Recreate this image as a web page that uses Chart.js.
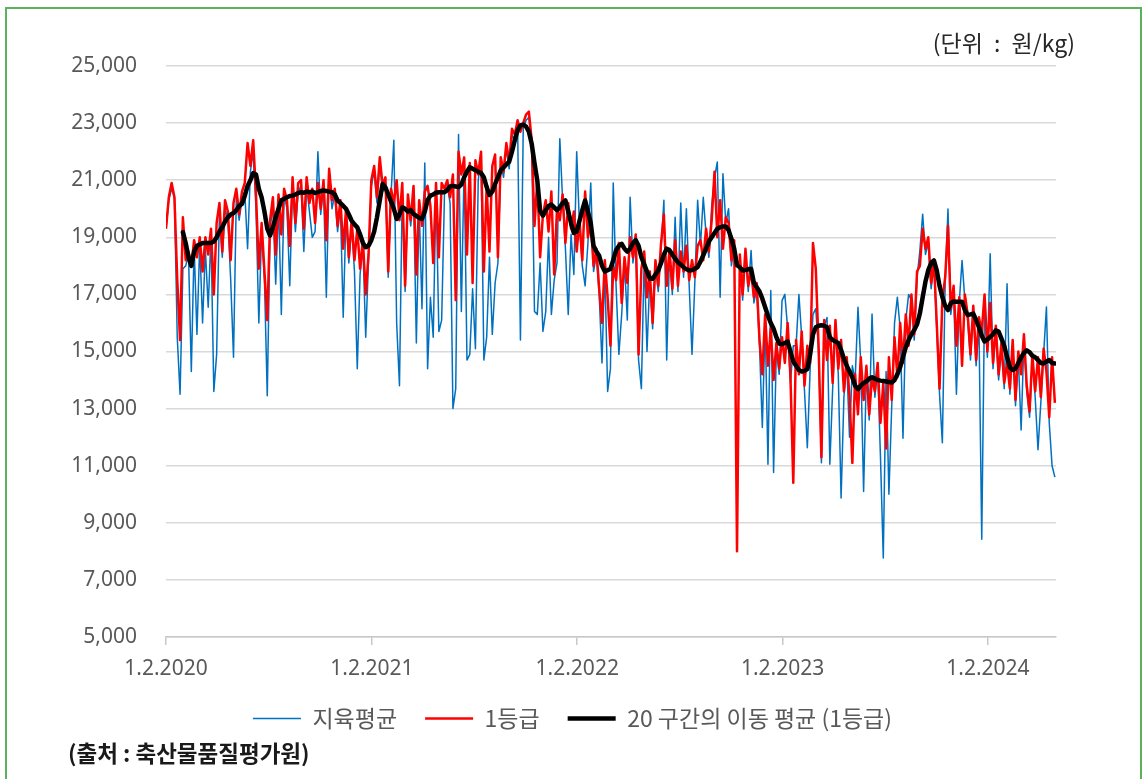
<!DOCTYPE html>
<html>
<head>
<meta charset="utf-8">
<script src="https://cdn.jsdelivr.net/npm/chart.js@4.4.1/dist/chart.umd.min.js"></script>
<style>
  body { margin: 0; background: #fff; }
  #frame { position: absolute; left: 5px; top: 7px; width: 1133px; height: 800px; border: 2px solid #5cb25c; }
  #c { position: absolute; left: 0; top: 0; }
  #unit { position: absolute; right: 68px; top: 29px; font: 23px/26px 'Noto Sans CJK KR', 'Noto Sans', sans-serif; color: #262626; white-space: pre; word-spacing: 6px; }
  #source { position: absolute; left: 68px; top: 739px; font: bold 22.5px/26px 'Noto Sans CJK KR', 'Noto Sans', sans-serif; color: #1a1a1a; white-space: pre; }
</style>
</head>
<body>
<div id="frame"></div>
<canvas id="c" width="1143" height="779"></canvas>
<div id="unit">(단위 : 원/kg)</div>
<div id="source">(출처 : 축산물품질평가원)</div>
<script>
// 일자: 2020-01-02 기준 경과일, 5일 간격
const startDay = 0;
const stepDays = 5;

const xTickDays = [0, 366, 731, 1096, 1461];
const xTickLabels = ['1.2.2020', '1.2.2021', '1.2.2022', '1.2.2023', '1.2.2024'];

// 지육평균
const avgPrice = [
  19300,20300,20700,20400,15500,13500,17900,18000,18400,14300,
  18700,15600,18800,16000,18600,16550,19100,13600,14900,19900,
  18300,20000,19600,17500,14800,20400,19600,20300,20600,18600,
  21300,22000,20000,16000,19200,17500,13450,19300,20100,17360,
  20200,16300,20500,20000,17300,20800,19200,20600,20800,18500,
  20800,19900,19000,19200,22000,19800,20800,16900,21200,20000,
  20500,19200,20100,16200,19800,18100,19400,17800,14400,17700,
  18700,15500,18200,20800,21300,20200,21600,20600,20900,17600,
  20500,22400,16000,13800,20700,17100,20300,19400,20600,15300,
  20100,16500,21600,14400,16900,15500,20700,15700,16100,20500,
  20800,20200,13000,13700,22600,16400,21600,14700,14900,17200,
  15100,21000,21800,14700,15500,18300,15600,17400,18100,21600,
  21100,22100,21400,22600,22400,22900,15400,22800,23100,23200,
  22200,16400,16300,18100,15700,16400,19000,16300,17500,18100,
  22450,20300,18600,16300,19100,17700,22000,19400,18000,17300,
  18800,20900,17800,18400,17000,14600,18000,13600,14400,20900,
  17300,14900,16300,18100,16100,20400,18100,18900,14700,13700,
  18300,15000,17600,15800,18000,17100,18600,20300,14700,18400,
  17000,19700,17100,20200,17600,20000,17300,14900,17400,20300,
  18700,20400,19100,18300,20100,21100,21640,16900,21230,19500,
  20000,18000,18700,18000,18200,16800,18400,17100,18540,16700,
  17200,15200,12340,16100,11050,17140,10760,15100,14200,16780,
  17000,15800,13900,15200,15200,17000,15500,13600,11630,14400,
  16300,16500,15000,11100,15900,16190,11050,13700,15900,14200,
  9870,13400,14600,12000,14500,14000,16550,14600,10100,14300,
  12600,16310,13400,14400,11300,7770,14300,10000,13100,16000,
  16900,15800,11960,16100,17000,16800,15400,17600,18530,19810,
  18400,18800,17200,18000,15800,13500,11800,17400,19990,16300,
  17100,13500,16700,18190,16800,16100,14700,16400,14500,16000,
  8420,16800,14800,18420,14400,15700,14000,15100,13700,17370,
  13500,15200,13100,14800,12250,15400,13600,12700,14700,13400,
  11560,13200,14900,16560,12500,11000,10600
];

// 1등급
const grade1Price = [
  19300,20400,20900,20400,17500,15400,19700,18200,18500,18000,
  18900,18300,19000,17800,19000,18400,19300,17000,19500,20200,
  18500,20300,19900,18200,20200,20700,19800,20600,20900,22300,
  21500,22400,20500,17900,19500,17800,16100,19600,20400,18400,
  20500,19100,20700,20300,18700,21100,19500,20900,21000,19300,
  21100,20200,20700,19500,20900,20000,21000,18900,21400,20300,
  20700,19400,20300,18600,20000,18300,19600,18200,19300,17900,
  18900,17000,18400,21000,21500,20400,21800,20800,21100,17800,
  20700,20200,21000,19600,20900,17300,20500,19600,20800,17700,
  20300,19400,20600,20800,20100,18100,20900,18300,20900,20700,
  21000,20400,21200,16800,22000,21200,21800,18400,21600,17400,
  21700,21200,22000,17800,20800,18500,21500,21900,18300,21800,
  21300,22300,21600,22800,22600,23100,22700,23000,23300,23400,
  22400,19400,21000,18300,19800,20300,19200,20600,17700,20000,
  19600,20500,18800,20200,19300,19900,18500,19600,18200,20600,
  19000,19500,18000,18600,17200,16000,18200,16900,15200,18000,
  17500,18800,16700,18300,17400,19000,18300,19100,14900,17900,
  18500,16900,17800,16000,18200,17300,18800,19800,17300,18600,
  17200,18900,17300,18500,17800,18700,17500,18200,17600,18700,
  18900,18200,19300,18500,19600,21300,19000,20300,18600,19700,
  19500,18200,18900,8000,18400,17000,18600,17300,17800,16900,
  17400,15400,14200,16300,14500,15800,14000,15300,14400,15500,
  14600,16000,14100,10400,15400,14200,15700,13800,15200,14600,
  18800,17900,15200,11300,16100,14700,15900,13900,16100,14400,
  15400,13600,14800,13400,11100,14200,12800,14800,13300,14500,
  12800,14100,13600,14600,12500,13900,11600,14800,13300,15500,
  14100,16000,14600,16300,15200,17000,15600,17800,18000,19300,
  18600,19000,17400,18200,16000,13700,16800,17600,19400,16500,
  17300,15200,16900,14500,17000,16300,14900,16600,14700,16200,
  15700,17000,15000,16700,14600,15900,14200,15300,13900,14600,
  13700,15400,13300,15000,14200,15600,13800,12900,14900,13600,
  14800,13400,15100,14300,12700,14800,13200
];

// 20 구간의 이동 평균 (1등급)
const grade1MovingAvg = [
  null,null,null,null,null,null,19180,18800,18300,18000,
  18500,18700,18750,18800,18800,18800,18800,18850,19000,19200,
  19350,19550,19700,19800,19850,19950,20100,20170,20450,20800,
  21000,21250,21200,20700,20400,19900,19300,19060,19350,19700,
  20000,20300,20350,20400,20450,20460,20500,20550,20580,20560,
  20600,20580,20600,20550,20580,20620,20640,20620,20600,20580,
  20500,20290,20200,20100,20000,19800,19580,19450,19350,19100,
  18800,18650,18700,18900,19200,19700,20290,20870,20750,20500,
  20250,20000,19640,19800,20050,20000,19900,19950,19820,19750,
  19680,19640,19900,20300,20460,20500,20560,20580,20580,20580,
  20650,20780,20800,20780,20760,20850,21100,21300,21460,21400,
  21350,21300,21250,21100,20760,20480,20600,20870,21100,21350,
  21450,21550,21650,22000,22400,22750,22920,22950,22880,22700,
  22280,21600,20990,19930,19760,19950,20100,20150,20050,19950,
  20050,20200,20290,19900,19500,19150,19200,19580,19950,20290,
  19900,19500,18700,18500,18350,18000,17800,17850,17890,18200,
  18550,18700,18770,18600,18500,18600,18800,18900,18700,18300,
  18050,17800,17550,17550,17700,17840,18100,18400,18600,18550,
  18400,18250,18130,18050,17950,17880,17840,17850,17900,17960,
  18150,18370,18600,18850,19000,19150,19300,19350,19380,19380,
  19250,18950,18600,18020,17950,17840,17850,17880,17900,17400,
  17250,17100,16850,16550,16250,16000,15800,15500,15280,15250,
  15300,15350,15000,14650,14500,14350,14300,14320,14380,14900,
  15600,15850,15900,15920,15900,15850,15500,15400,15350,15300,
  15050,14750,14500,14300,14100,13800,13680,13800,13900,13950,
  14050,14100,14050,14000,13980,13970,13950,13930,13910,14000,
  14200,14450,14800,15150,15400,15600,15750,15950,16330,16900,
  17450,17850,18100,18190,17840,17300,16910,16600,16450,16700,
  16750,16740,16740,16740,16450,16280,16300,16330,16100,15850,
  15550,15350,15420,15510,15600,15740,15700,15450,15200,14800,
  14450,14350,14400,14600,14800,14950,15040,14980,14850,14800,
  14700,14600,14580,14650,14700,14600,14580
];

const toPoints = arr => arr.map((v, i) => ({ x: startDay + i * stepDays, y: v }));

const tickFont = { family: "'Noto Sans', 'Noto Sans CJK KR', sans-serif", size: 21 };
const legendFont = { family: "'Noto Sans CJK KR', 'Noto Sans', sans-serif", size: 23 };

new Chart(document.getElementById('c'), {
  type: 'line',
  data: {
    datasets: [
      {
        label: '지육평균',
        data: toPoints(avgPrice),
        borderColor: '#0070c0',
        backgroundColor: '#0070c0',
        borderWidth: 1.5,
        borderJoinStyle: 'round',
        pointRadius: 0,
        order: 3
      },
      {
        label: '1등급',
        data: toPoints(grade1Price),
        borderColor: '#ff0000',
        backgroundColor: '#ff0000',
        borderWidth: 2.5,
        borderJoinStyle: 'round',
        pointRadius: 0,
        order: 2
      },
      {
        label: '20 구간의 이동 평균 (1등급)',
        data: toPoints(grade1MovingAvg),
        borderColor: '#000000',
        backgroundColor: '#000000',
        borderWidth: 4.5,
        borderJoinStyle: 'round',
        borderCapStyle: 'round',
        pointRadius: 0,
        order: 1
      }
    ]
  },
  options: {
    responsive: false,
    animation: false,
    devicePixelRatio: 1,
    layout: { padding: { left: 10, right: 8, top: 66, bottom: 39 } },
    plugins: {
      legend: {
        position: 'bottom',
        labels: {
          usePointStyle: true,
          pointStyle: 'line',
          pointStyleWidth: 48,
          padding: 28,
          color: '#595959',
          font: legendFont,
          sort: (a, b) => a.datasetIndex - b.datasetIndex
        }
      },
      tooltip: { enabled: false }
    },
    scales: {
      x: {
        type: 'linear',
        min: 0,
        max: 1582,
        afterBuildTicks: s => { s.ticks = xTickDays.map(v => ({ value: v })); },
        afterFit: s => { s.height = 42; },
        ticks: {
          autoSkip: false,
          maxRotation: 0,
          padding: 11,
          color: '#595959',
          font: tickFont,
          callback: (v, i) => xTickLabels[i]
        },
        grid: { drawOnChartArea: false, drawTicks: true, tickLength: 8, color: '#c8c8c8', lineWidth: 1.5 },
        border: { display: true, color: '#c8c8c8', width: 1.5 }
      },
      y: {
        min: 5000,
        max: 25000,
        afterFit: s => { s.width = 156; },
        ticks: {
          stepSize: 2000,
          padding: 29,
          color: '#595959',
          font: tickFont,
          callback: v => v.toLocaleString('en-US')
        },
        grid: { color: '#d9d9d9', lineWidth: 1.5, drawTicks: false },
        border: { display: false }
      },
      yRight: {
        position: 'right',
        afterFit: s => { s.width = 79; },
        ticks: { display: false },
        grid: { display: false, drawTicks: false },
        border: { display: false }
      }
    }
  }
});
</script>
</body>
</html>
